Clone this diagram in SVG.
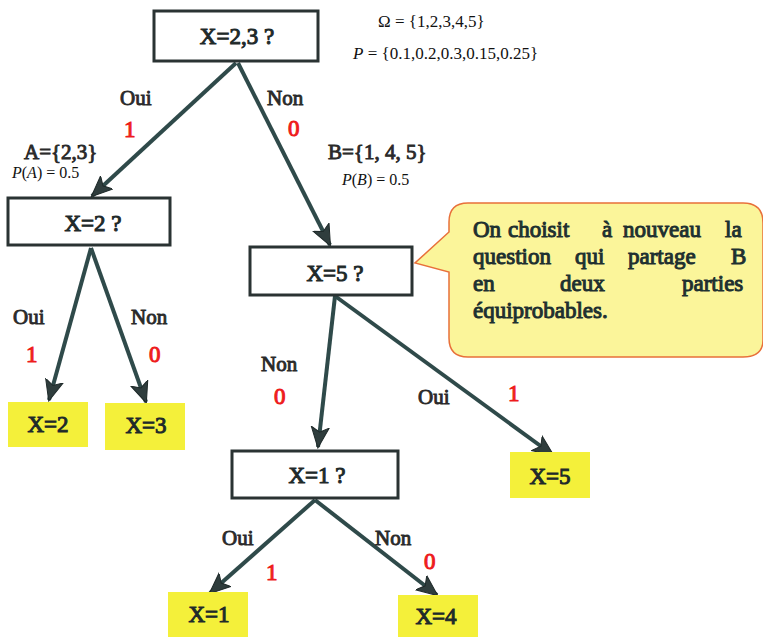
<svg xmlns="http://www.w3.org/2000/svg" width="763" height="637" viewBox="0 0 763 637">
<defs>
<marker id="ah" markerUnits="userSpaceOnUse" markerWidth="22" markerHeight="20" viewBox="0 0 22 20" refX="20" refY="10" orient="auto">
<path d="M0,1 L21,10 L0,19 L5,10 Z" fill="#2f3d3d" stroke="#1f2a2a" stroke-width="1"/>
</marker>
</defs>
<style>
text{font-family:'Liberation Serif','Times New Roman',serif}
.q{fill:#fff;stroke:#2a3333;stroke-width:3}
.leaf{fill:#f4f03a;stroke:none}
.t{font-size:23px;fill:#1f2a2a;stroke:#1f2a2a;stroke-width:1;text-anchor:middle}
.lbl{font-size:21px;fill:#2a2a2a;stroke:#2a2a2a;stroke-width:0.9}
.red{font-size:23px;fill:#ee1c1c;stroke:#ee1c1c;stroke-width:1}
.m{font-size:16px;fill:#111}
.mm{font-size:17px;fill:#111}
.c{font-size:23px;fill:#1e3030;stroke:#1e3030;stroke-width:1}
.e{stroke:#2f4a4a;stroke-width:4;fill:none;marker-end:url(#ah)}
</style>
<g id="connectors">
<line class="e" x1="236" y1="63" x2="92" y2="196"/>
<line class="e" x1="238" y1="63" x2="330" y2="245"/>
<line class="e" x1="91" y1="248" x2="49" y2="400"/>
<line class="e" x1="91" y1="248" x2="146" y2="402"/>
<line class="e" x1="335" y1="296" x2="318" y2="447"/>
<line class="e" x1="335" y1="296" x2="553" y2="455"/>
<line class="e" x1="315" y1="500" x2="210" y2="593"/>
<line class="e" x1="315" y1="500" x2="437" y2="595"/>
</g>
<g id="n_root"><rect class="q" x="154" y="11" width="164" height="50"/><text class="t" x="237" y="44">X=2,3 ?</text></g>
<g id="n_x2q"><rect class="q" x="8" y="198" width="162" height="47"/><text class="t" x="93" y="231">X=2  ?</text></g>
<g id="n_x5q"><rect class="q" x="250" y="247" width="162" height="48"/><text class="t" x="335" y="281">X=5  ?</text></g>
<g id="n_x1q"><rect class="q" x="232" y="451" width="166" height="47"/><text class="t" x="317" y="483">X=1  ?</text></g>
<g id="n_x2"><rect class="leaf" x="8" y="402" width="80" height="45"/><text class="t" x="48" y="432">X=2</text></g>
<g id="n_x3"><rect class="leaf" x="105" y="403" width="80" height="47"/><text class="t" x="146" y="433">X=3</text></g>
<g id="n_x5"><rect class="leaf" x="510" y="452" width="80" height="46"/><text class="t" x="550" y="484">X=5</text></g>
<g id="n_x1"><rect class="leaf" x="168" y="592" width="80" height="45"/><text class="t" x="209" y="622">X=1</text></g>
<g id="n_x4"><rect class="leaf" x="398" y="595" width="80" height="42"/><text class="t" x="436" y="624">X=4</text></g>
<g id="callout">
<path d="M468,203 H743 Q763,203 763,223 V340 Q763,357 743,357 H468 Q449,357 449,338 V272 L415,263 L449,232 V222 Q449,203 468,203 Z" fill="#fbf59a" stroke="#e8703a" stroke-width="1.5"/>
<text class="c" y="237"><tspan x="473">On</tspan><tspan x="508">choisit</tspan><tspan x="602">à</tspan><tspan x="623">nouveau</tspan><tspan x="725">la</tspan></text>
<text class="c" y="264"><tspan x="473">question</tspan><tspan x="575">qui</tspan><tspan x="628">partage</tspan><tspan x="731">B</tspan></text>
<text class="c" y="291"><tspan x="473">en</tspan><tspan x="560">deux</tspan><tspan x="682">parties</tspan></text>
<text class="c" x="473" y="318">équiprobables.</text>
</g>
<g id="labels">
<text class="mm" x="378" y="27">Ω = {1,2,3,4,5}</text>
<text class="mm" x="353" y="59"><tspan font-style="italic">P</tspan> = {0.1,0.2,0.3,0.15,0.25}</text>
<text class="lbl" x="120" y="105">Oui</text>
<text class="red" x="124" y="137">1</text>
<text class="lbl" x="267" y="105">Non</text>
<text class="red" x="288" y="136">0</text>
<text class="lbl" x="24" y="159">A={2,3}</text>
<text class="m" x="12" y="178"><tspan font-style="italic">P</tspan>(<tspan font-style="italic">A</tspan>) = 0.5</text>
<text class="lbl" x="328" y="159">B={1, 4, 5}</text>
<text class="m" x="342" y="185"><tspan font-style="italic">P</tspan>(<tspan font-style="italic">B</tspan>) = 0.5</text>
<text class="lbl" x="13" y="324">Oui</text>
<text class="red" x="26" y="362">1</text>
<text class="lbl" x="131" y="324">Non</text>
<text class="red" x="149" y="362">0</text>
<text class="lbl" x="261" y="371">Non</text>
<text class="red" x="274" y="404">0</text>
<text class="lbl" x="418" y="404">Oui</text>
<text class="red" x="508" y="401">1</text>
<text class="lbl" x="222" y="545">Oui</text>
<text class="red" x="266" y="580">1</text>
<text class="lbl" x="375" y="545">Non</text>
<text class="red" x="424" y="569">0</text>
</g>
</svg>
